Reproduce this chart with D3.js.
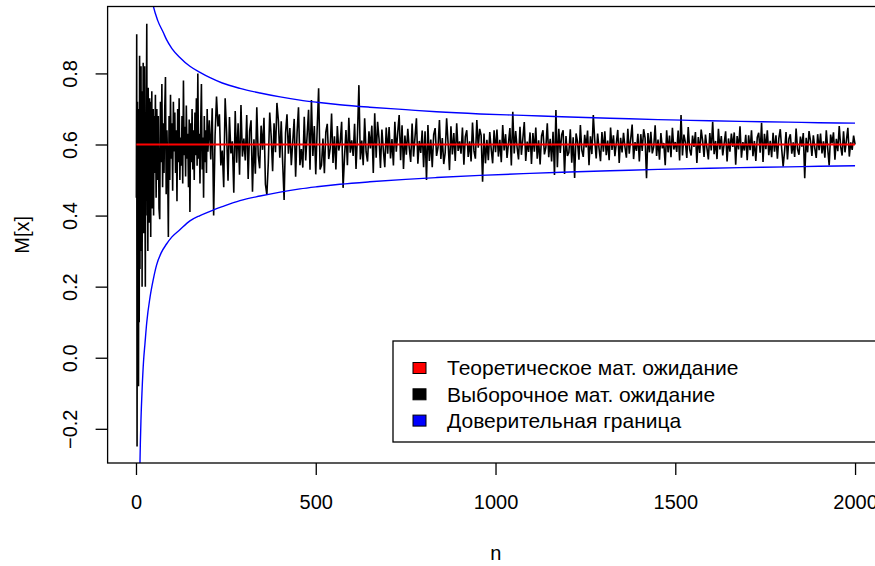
<!DOCTYPE html>
<html><head><meta charset="utf-8">
<script src="https://cdn.jsdelivr.net/npm/d3@7"></script>
<style>
body{margin:0;background:#fff}
svg{display:block}
text{font-family:"Liberation Sans",Arial,sans-serif;fill:#000}
</style>
</head><body>
<svg id="chart" width="875" height="566"></svg>
<script>
// ---------- data ----------
const xTicks = [0, 500, 1000, 1500, 2000];
const yTicks = [-0.2, 0.0, 0.2, 0.4, 0.6, 0.8];
const theoreticalMean = 0.6;
const nMax = 2000;

// sample mean, n = 1..50
const meanA = [0.45,0.91,-0.25,0.72,0.05,0.70,-0.08,0.66,0.10,0.85,
               0.25,0.72,0.38,0.82,0.30,0.68,0.20,0.75,0.42,0.83,
               0.35,0.69,0.48,0.82,0.44,0.20,0.66,0.40,0.74,0.94,
               0.45,0.70,0.30,0.76,0.50,0.68,0.38,0.73,0.45,0.66,
               0.34,0.72,0.47,0.75,0.42,0.64,0.51,0.70,0.40,0.68];
// sample mean, n = 52..200 (every 2nd n)
const meanB = [0.52,0.74,0.45,0.70,0.50,0.68,0.42,0.39,0.72,0.55,
               0.77,0.48,0.66,0.52,0.70,0.79,0.46,0.64,0.55,0.34,
               0.68,0.50,0.74,0.56,0.66,0.47,0.72,0.58,0.69,0.52,
               0.64,0.44,0.70,0.55,0.73,0.50,0.62,0.54,0.68,0.49,
               0.78,0.57,0.65,0.51,0.71,0.56,0.63,0.48,0.67,0.41,
               0.66,0.55,0.70,0.53,0.64,0.50,0.69,0.57,0.73,0.54,
               0.80,0.56,0.63,0.49,0.66,0.77,0.53,0.62,0.45,0.68,
               0.55,0.64,0.52,0.70,0.58];
// sample mean, n = 204..2000 (every 4th n), one row per 100 n
const meanC = [
 0.668,0.558,0.702,0.40,0.626,0.735,0.651,0.685,0.541,0.583,0.48,0.73,0.634,0.498,0.677,0.575,0.609,0.464,0.694,0.549,0.660,0.515,0.711,0.566,0.617,
 0.555,0.683,0.503,0.638,0.668,0.467,0.615,0.518,0.705,0.570,0.533,0.653,0.585,0.675,0.488,0.458,0.548,0.690,0.623,0.525,0.660,0.578,0.717,0.668,0.563,
 0.665,0.548,0.444,0.633,0.685,0.574,0.646,0.542,0.607,0.672,0.509,0.633,0.705,0.542,0.587,0.535,0.678,0.555,0.626,0.698,0.529,0.725,0.568,0.652,0.516,
 0.646,0.758,0.530,0.542,0.617,0.519,0.635,0.658,0.559,0.588,0.687,0.548,0.623,0.530,0.652,0.583,0.606,0.664,0.478,0.565,0.641,0.542,0.675,0.577,0.612,
 0.568,0.658,0.531,0.627,0.767,0.558,0.611,0.542,0.674,0.579,0.552,0.637,0.589,0.653,0.520,0.688,0.563,0.664,0.616,0.534,0.642,0.584,0.536,0.648,0.574,
 0.649,0.561,0.615,0.541,0.664,0.580,0.634,0.683,0.556,0.654,0.531,0.625,0.571,0.644,0.590,0.551,0.659,0.566,0.620,0.674,0.546,0.610,0.576,0.639,0.536,
 0.637,0.500,0.655,0.554,0.614,0.536,0.628,0.646,0.568,0.591,0.669,0.559,0.618,0.545,0.577,0.674,0.605,0.528,0.651,0.572,0.632,0.554,0.660,0.582,0.609,
 0.574,0.648,0.543,0.622,0.640,0.565,0.609,0.552,0.662,0.582,0.560,0.669,0.591,0.644,0.626,0.495,0.631,0.547,0.613,0.556,0.635,0.587,0.547,0.640,0.578,
 0.642,0.566,0.613,0.550,0.655,0.583,0.629,0.562,0.604,0.646,0.541,0.692,0.575,0.638,0.592,0.558,0.650,0.571,0.617,0.663,0.554,0.608,0.579,0.634,0.545,
 0.632,0.580,0.648,0.560,0.612,0.544,0.624,0.640,0.572,0.592,0.660,0.564,0.616,0.552,0.636,0.514,0.697,0.536,0.644,0.576,0.628,0.640,0.517,0.624,0.568,
 0.577,0.643,0.549,0.620,0.506,0.631,0.608,0.557,0.655,0.584,0.565,0.627,0.592,0.639,0.542,0.623,0.573,0.683,0.612,0.561,0.631,0.588,0.553,0.635,0.580,
 0.637,0.570,0.611,0.556,0.648,0.585,0.626,0.567,0.604,0.641,0.548,0.619,0.578,0.633,0.593,0.563,0.644,0.574,0.615,0.656,0.559,0.607,0.582,0.630,0.552,
 0.629,0.582,0.643,0.618,0.505,0.632,0.578,0.636,0.575,0.593,0.654,0.568,0.614,0.557,0.632,0.589,0.604,0.542,0.640,0.578,0.625,0.564,0.647,0.586,0.607,
 0.579,0.639,0.555,0.683,0.569,0.628,0.607,0.562,0.649,0.586,0.569,0.625,0.593,0.635,0.548,0.621,0.576,0.642,0.611,0.565,0.628,0.590,0.558,0.632,0.583,
 0.664,0.573,0.610,0.559,0.644,0.586,0.624,0.569,0.603,0.637,0.552,0.617,0.580,0.631,0.593,0.634,0.543,0.624,0.586,0.651,0.563,0.607,0.583,0.627,0.556,
 0.626,0.584,0.640,0.567,0.610,0.554,0.620,0.633,0.577,0.661,0.551,0.630,0.587,0.640,0.570,0.610,0.564,0.633,0.580,0.626,0.560,0.617,0.643,0.587,0.538,
 0.581,0.635,0.558,0.616,0.629,0.574,0.606,0.565,0.645,0.587,0.571,0.622,0.594,0.632,0.505,0.619,0.578,0.638,0.610,0.568,0.626,0.590,0.562,0.629,0.584,
 0.631,0.575,0.609,0.563,0.640,0.588,0.541,0.628,0.603,0.634,0.557,0.616,0.581,0.652,0.594,0.569,0.637,0.578,0.612,0.647,0.566,0.606,0.585,0.625,0.600];

// confidence bounds
const upperN = [40,48,60,76,85,100,122,150,178,206,240,289,345,401,456,503,567,650,750,836,957,1077,1184,1318,1452,1541,1680,1814,1900,2000];
const upperV = [1.03,0.99,0.95,0.915,0.895,0.87,0.845,0.82,0.803,0.788,0.773,0.758,0.745,0.734,0.725,0.719,0.712,0.705,0.698,0.692,0.686,0.682,0.678,0.674,0.670,0.668,0.665,0.663,0.661,0.660];
const lowerN = [9,11,14,17,21,25,30,39,48,57,70,85,100,122,150,178,206,240,289,345,401,456,503,567,650,750,836,957,1077,1184,1318,1452,1541,1680,1814,1900,2000];
const lowerV = [-0.45,-0.30,-0.17,-0.09,-0.01,0.04,0.10,0.17,0.22,0.26,0.295,0.32,0.34,0.36,0.385,0.40,0.412,0.425,0.442,0.455,0.466,0.475,0.481,0.488,0.495,0.502,0.507,0.513,0.518,0.522,0.526,0.530,0.532,0.535,0.537,0.539,0.540];

const legendLabels = ["Теоретическое мат. ожидание", "Выборочное мат. ожидание", "Доверительная граница"];
const legendColors = ["#ff0000", "#000000", "#0000ff"];

// ---------- build ----------
const samplePts = [];
meanA.forEach((v,i)=>samplePts.push([1+i, v]));
meanB.forEach((v,i)=>samplePts.push([52+2*i, v]));
meanC.forEach((v,i)=>samplePts.push([204+4*i, v]));
const upperPts = upperN.map((n,i)=>[n, upperV[i]]);
const lowerPts = lowerN.map((n,i)=>[n, lowerV[i]]);

const svg = d3.select("#chart");
const L = 107.6, R = 883.8, T = 6.5, B = 463;
const x = d3.scaleLinear().domain([-78.96, 2079.96]).range([L, R]);
const y = d3.scaleLinear().domain([-0.2962, 0.9883]).range([B, T]);
const FS = 20;
const FSL = 21;

svg.append("defs").append("clipPath").attr("id","clip")
  .append("rect").attr("x",L).attr("y",T).attr("width",R-L).attr("height",B-T);

const plot = svg.append("g").attr("clip-path","url(#clip)");
const line = d3.line().x(d=>x(d[0])).y(d=>y(d[1]));

plot.append("path").datum(samplePts).attr("d", line)
  .attr("fill","none").attr("stroke","#000").attr("stroke-width",1.6).attr("stroke-linejoin","miter");

const curve = d3.line().x(d=>x(d[0])).y(d=>y(d[1])).curve(d3.curveMonotoneX);
plot.append("path").datum(upperPts).attr("d", curve).attr("fill","none").attr("stroke","#0000ff").attr("stroke-width",1.4);
plot.append("path").datum(lowerPts).attr("d", curve).attr("fill","none").attr("stroke","#0000ff").attr("stroke-width",1.4);

plot.append("path").datum([[1,theoreticalMean],[nMax,theoreticalMean]]).attr("d", line)
  .attr("fill","none").attr("stroke","#ff0000").attr("stroke-width",2);

// box
svg.append("rect").attr("x",L).attr("y",T).attr("width",R-L).attr("height",B-T)
  .attr("fill","none").attr("stroke","#000").attr("stroke-width",1.3);

// x axis
const xAxis = svg.append("g").attr("transform",`translate(0,${B})`)
  .call(d3.axisBottom(x).tickValues(xTicks).tickSize(12).tickPadding(0).tickFormat(d3.format("d")));
xAxis.select(".domain").remove();
xAxis.selectAll("line").attr("stroke","#000").attr("stroke-width",1.3);
xAxis.selectAll("text").attr("font-size",FS).attr("y",32).attr("dy","0.71em")
  .style("font-family","'Liberation Sans',Arial,sans-serif").attr("fill","#000");

// y axis
const yAxis = svg.append("g").attr("transform",`translate(${L},0)`)
  .call(d3.axisLeft(y).tickValues(yTicks).tickSize(12).tickFormat(d3.format(".1f")));
yAxis.select(".domain").remove();
yAxis.selectAll("line").attr("stroke","#000").attr("stroke-width",1.3);
yAxis.selectAll("text").remove();
yAxis.selectAll(".tick").append("text")
  .attr("transform","translate(-38,0) rotate(-90)")
  .attr("text-anchor","middle").attr("dy","0.35em")
  .attr("font-size",FS).attr("fill","#000")
  .style("font-family","'Liberation Sans',Arial,sans-serif")
  .text(d=>d3.format(".1f")(d));

// axis titles
svg.append("text").attr("x",(L+R)/2).attr("y",553).attr("text-anchor","middle")
  .attr("dy","0.35em").attr("font-size",FS).text("n");
svg.append("text").attr("transform",`translate(22,${(T+B)/2}) rotate(-90)`)
  .attr("text-anchor","middle").attr("dy","0.35em").attr("font-size",FS).text("M[x]");

// legend
const lg = svg.append("g");
lg.append("rect").attr("x",393).attr("y",341).attr("width",R-393).attr("height",101)
  .attr("fill","#fff").attr("stroke","#000").attr("stroke-width",1.3);
legendLabels.forEach((lab,i)=>{
  const cy = 368 + i*26.3;
  lg.append("rect").attr("x",413).attr("y",cy-5.5).attr("width",13).attr("height",11)
    .attr("fill",legendColors[i]).attr("stroke","#000").attr("stroke-width",1);
  lg.append("text").attr("x",447).attr("y",cy).attr("dy","0.35em").attr("font-size",FSL).text(lab);
});
</script>
</body></html>
